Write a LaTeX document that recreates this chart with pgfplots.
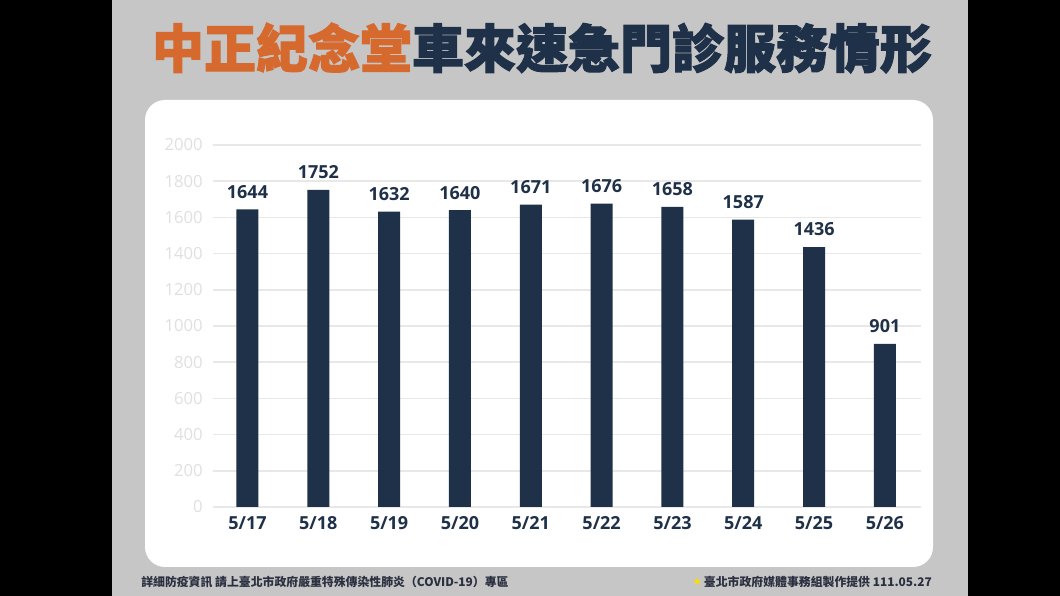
\documentclass[border=0pt]{standalone}
\usepackage{pgfplots}
\pgfplotsset{compat=1.18}
\usepackage{fontspec}
\setmainfont{Open Sans}
\newfontfamily\cjk{Noto Sans CJK TC}
\newfontfamily\cjkheavy[FakeBold=2]{Noto Sans CJK TC}
\newfontfamily\dejavu{DejaVu Sans}
\definecolor{navy}{HTML}{1F3148}
\definecolor{orng}{HTML}{D66A2E}
\definecolor{panel}{HTML}{C6C6C6}
\definecolor{gridc}{HTML}{E8E8E8}
\definecolor{ytc}{HTML}{E0E0E0}
\definecolor{footc}{HTML}{2A3040}
\begin{document}
\begin{tikzpicture}[x=0.75pt,y=0.75pt]
\fill[black] (0,0) rectangle (1060,596);
\fill[panel] (112,0) rectangle (968,596);
\fill[white,rounded corners=15pt] (145,29) rectangle (933,496);
\node[font=\cjkheavy\bfseries\fontsize{39}{39}\selectfont, anchor=center, inner sep=0pt] at (542,548) {\textcolor{orng}{中正紀念堂}\textcolor{navy}{車來速急門診服務情形}};
\node[anchor=west, font=\cjk\bfseries\fontsize{8.9}{9}\selectfont, color=footc, inner sep=0pt] at (141,14) {詳細防疫資訊 請上臺北市政府嚴重特殊傳染性肺炎（COVID-19）專區};
\node[anchor=east, font=\cjk\bfseries\fontsize{8.9}{9}\selectfont, color=footc, inner sep=0pt] (ft) at (932,14) {臺北市政府媒體事務組製作提供 111.05.27};
\node[anchor=east, font=\dejavu\fontsize{8}{9}\selectfont, color=yellow!80!orange, inner sep=1pt] at (ft.west) {★};
\begin{axis}[
  at={(159.75pt,66.75pt)}, anchor=south west, scale only axis,
  width=531pt, height=271.5pt,
  xmin=-0.487, xmax=9.51, ymin=0, ymax=2000,
  ytick={0,200,...,2000},
  xtick={0,...,9},
  xticklabels={5/17,5/18,5/19,5/20,5/21,5/22,5/23,5/24,5/25,5/26},
  axis line style={draw=none},
  major tick length=0pt,
  tick style={draw=none},
  ymajorgrids,
  grid style={gridc, line width=1.1pt},
  /pgf/number format/assume math mode=true,
  yticklabel style={font=\fontsize{12.5}{13}\selectfont, color=ytc, anchor=east, inner sep=0pt, xshift=-7.5pt},
  xticklabel style={font=\bfseries\fontsize{13.5}{14}\selectfont, color=navy, inner sep=0pt, anchor=north, yshift=-7pt},
  yticklabel={\pgfmathprintnumber[fixed,1000 sep={}]{\tick}},
]
\addplot[ybar, bar width=16.5pt, fill=navy, draw=none,
  nodes near coords={\pgfmathprintnumber[fixed,1000 sep={}]{\pgfplotspointmeta}},
  every node near coord/.append style={font=\bfseries\fontsize{13.5}{14}\selectfont, color=navy, inner sep=0pt, anchor=south, yshift=8pt}]
coordinates {(0,1644) (1,1752) (2,1632) (3,1640) (4,1671) (5,1676) (6,1658) (7,1587) (8,1436) (9,901)};
\end{axis}
\end{tikzpicture}
\end{document}
